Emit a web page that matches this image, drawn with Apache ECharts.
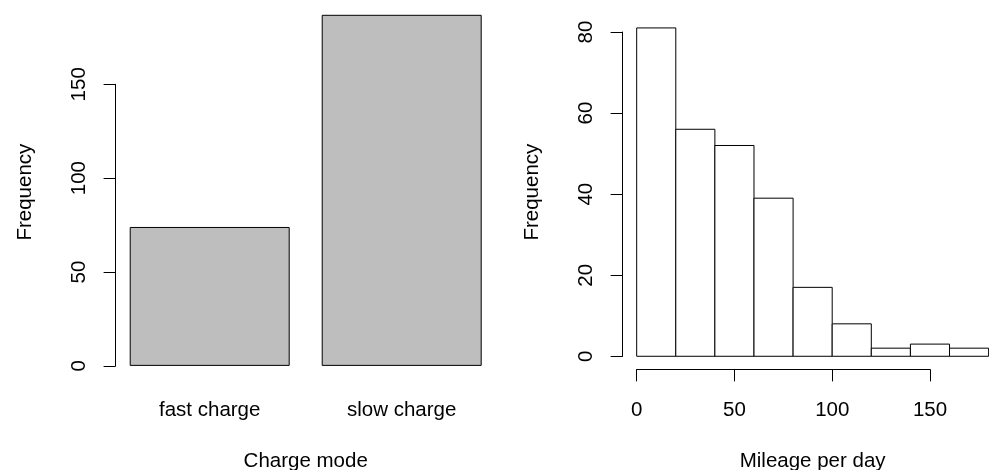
<!DOCTYPE html>
<html>
<head>
<meta charset="utf-8">
<script src="https://cdn.jsdelivr.net/npm/echarts@6/dist/echarts.min.js"></script>
<style>
  html, body { margin: 0; padding: 0; background: #fff; }
  #chart { width: 989px; height: 470px; }
</style>
</head>
<body>
<div id="chart"></div>
<script>
// Data
const chargeModes = ['fast charge', 'slow charge'];
const chargeCounts = [74, 187];
const leftTicks = [0, 50, 100, 150];

const binEdges = [0, 20, 40, 60, 80, 100, 120, 140, 160, 180];
const mileageCounts = [81, 56, 52, 39, 17, 8, 2, 3, 2];
const rightTicksY = [0, 20, 40, 60, 80];
const rightTicksX = [0, 50, 100, 150];

const FONT = 'Liberation Sans';
const FS = 20.5;

// --- helpers ---
const tickStep = t => t[1] - t[0];
const hiddenAxis = (gridIndex, type, extra) => Object.assign({
    gridIndex: gridIndex, type: type || 'value', show: false, splitLine: { show: false }
}, extra || {});
// v6 grids shrink to fit labels by default; keep the exact rectangle
const box = (left, width, top, height) => ({
    left: left, width: width, top: top, height: height, outerBoundsMode: 'none', containLabel: false
});

// barplot: value axis runs from -1% to max, no extra padding
const barMax = Math.max(...chargeCounts);
const barMin = -0.01 * barMax;
// hist: 4% padding on both axes
const histSpan = binEdges[binEdges.length - 1] - binEdges[0];
const histXMin = binEdges[0] - 0.04 * histSpan;
const histXMax = binEdges[binEdges.length - 1] + 0.04 * histSpan;
const histYMax0 = Math.max(...mileageCounts);
const histYMin = -0.04 * histYMax0;
const histYMax = histYMax0 * 1.04;

const histData = mileageCounts.map((c, i) => [binEdges[i], binEdges[i + 1], c]);

const axisText = { color: '#000', fontFamily: FONT, fontSize: FS };
const blackLine = { show: true, lineStyle: { color: '#000', width: 1 } };
const blackTick = { show: true, length: 12, lineStyle: { color: '#000', width: 1 } };

const chart = echarts.init(document.getElementById('chart'), null, { renderer: 'canvas' });

const option = {
    backgroundColor: '#fff',
    animation: false,
    grid: [
        // 0: barplot area (category band = 1.2 bar widths)
        box(113.7, 384, 14.8, 354.6),
        // 1: barplot y axis (ticks 0..150 only)
        box(115.6, 380, 84.3, 281.6),
        // 2: histogram area (runs past the right edge of the canvas)
        box(622.6, 380.1, 14.8, 354.6),
        // 3: histogram y axis
        box(622.6, 300, 32, 324.3),
        // 4: histogram x axis
        box(636.7, 293.3, 14.8, 354.6)
    ],
    xAxis: [
        {
            gridIndex: 0, type: 'category', data: chargeModes,
            axisLine: { show: false, onZero: false },
            axisTick: { show: false },
            axisLabel: Object.assign({ margin: 30 }, axisText),
            name: 'Charge mode', nameLocation: 'middle', nameGap: 81,
            nameTextStyle: axisText
        },
        hiddenAxis(1, 'value', { min: 0, max: 1 }),
        {
            gridIndex: 2, type: 'value', min: histXMin, max: histXMax,
            axisLine: { show: false, onZero: false },
            axisTick: { show: false }, axisLabel: { show: false },
            splitLine: { show: false },
            name: 'Mileage per day', nameLocation: 'middle', nameGap: 81,
            nameTextStyle: axisText
        },
        hiddenAxis(3, 'value', { min: 0, max: 1 }),
        {
            gridIndex: 4, type: 'value',
            min: rightTicksX[0], max: rightTicksX[rightTicksX.length - 1], interval: tickStep(rightTicksX),
            axisLine: Object.assign({ onZero: false }, blackLine),
            axisTick: blackTick,
            axisLabel: Object.assign({ margin: 30 }, axisText),
            splitLine: { show: false }
        }
    ],
    yAxis: [
        {
            gridIndex: 0, type: 'value', min: barMin, max: barMax,
            axisLine: { show: false }, axisTick: { show: false }, axisLabel: { show: false },
            splitLine: { show: false },
            name: 'Frequency', nameLocation: 'middle', nameGap: 78,
            nameTextStyle: axisText
        },
        {
            gridIndex: 1, type: 'value',
            min: leftTicks[0], max: leftTicks[leftTicks.length - 1], interval: tickStep(leftTicks),
            axisLine: blackLine,
            axisTick: blackTick,
            axisLabel: Object.assign({ margin: 26, rotate: 90 }, axisText),
            splitLine: { show: false }
        },
        {
            gridIndex: 2, type: 'value', min: histYMin, max: histYMax,
            axisLine: { show: false }, axisTick: { show: false }, axisLabel: { show: false },
            splitLine: { show: false },
            name: 'Frequency', nameLocation: 'middle', nameGap: 80,
            nameTextStyle: axisText
        },
        {
            gridIndex: 3, type: 'value',
            min: rightTicksY[0], max: rightTicksY[rightTicksY.length - 1], interval: tickStep(rightTicksY),
            axisLine: blackLine,
            axisTick: blackTick,
            axisLabel: Object.assign({ margin: 26, rotate: 90 }, axisText),
            splitLine: { show: false }
        },
        hiddenAxis(4, 'value', { min: 0, max: 1 })
    ],
    series: [
        {
            type: 'bar', xAxisIndex: 0, yAxisIndex: 0,
            data: chargeCounts,
            barWidth: '83.33%',
            itemStyle: { color: '#bebebe', borderColor: '#000', borderWidth: 1 }
        },
        {
            type: 'custom', xAxisIndex: 2, yAxisIndex: 2,
            data: histData,
            encode: { x: [0, 1], y: 2 },
            renderItem: function (params, api) {
                const p0 = api.coord([api.value(0), api.value(2)]);
                const p1 = api.coord([api.value(1), 0]);
                return {
                    type: 'rect',
                    shape: { x: p0[0], y: p0[1], width: p1[0] - p0[0], height: p1[1] - p0[1] },
                    style: { fill: '#fff', stroke: '#000', lineWidth: 1 }
                };
            }
        }
    ]
};

chart.setOption(option);
</script>
</body>
</html>
